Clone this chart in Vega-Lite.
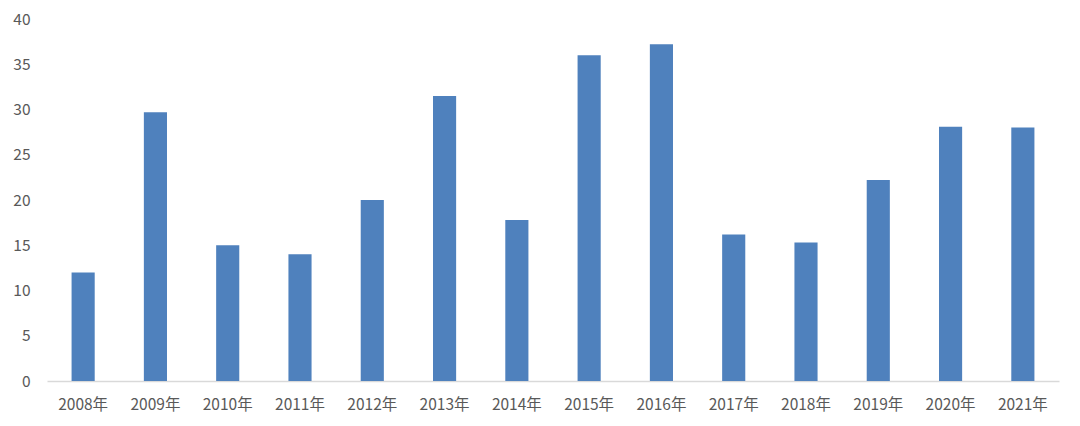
{
  "$schema": "https://vega.github.io/schema/vega-lite/v6.json",
  "autosize": "none",
  "width": 1012,
  "height": 362,
  "padding": {"left": 47, "top": 19, "right": 21, "bottom": 45},
  "background": "white",
  "config": {"view": {"stroke": null}, "font": "Noto Sans CJK SC"},
  "data": {"values": [
    {"year": "2008年", "value": 12.0},
    {"year": "2009年", "value": 29.7},
    {"year": "2010年", "value": 15.0},
    {"year": "2011年", "value": 14.0},
    {"year": "2012年", "value": 20.0},
    {"year": "2013年", "value": 31.5},
    {"year": "2014年", "value": 17.8},
    {"year": "2015年", "value": 36.0},
    {"year": "2016年", "value": 37.2},
    {"year": "2017年", "value": 16.2},
    {"year": "2018年", "value": 15.3},
    {"year": "2019年", "value": 22.2},
    {"year": "2020年", "value": 28.1},
    {"year": "2021年", "value": 28.0}
  ]},
  "mark": {"type": "bar", "color": "#4F81BD"},
  "encoding": {
    "x": {
      "field": "year", "type": "nominal", "sort": null,
      "scale": {"paddingInner": 0.68, "paddingOuter": 0.34},
      "axis": {"title": null, "labelAngle": 0, "ticks": false, "domainColor": "#D9D9D9", "domainWidth": 1.5,
        "labelColor": "#595959", "labelFontSize": 15.5, "labelPadding": 16, "labelFont": "Noto Sans CJK SC"}
    },
    "y": {
      "field": "value", "type": "quantitative",
      "scale": {"domain": [0, 40]},
      "axis": {"title": null, "values": [0,5,10,15,20,25,30,35,40], "grid": false, "ticks": false, "domain": false,
        "labelColor": "#595959", "labelFontSize": 15.5, "labelPadding": 17, "labelFont": "Noto Sans CJK SC"}
    }
  }
}
